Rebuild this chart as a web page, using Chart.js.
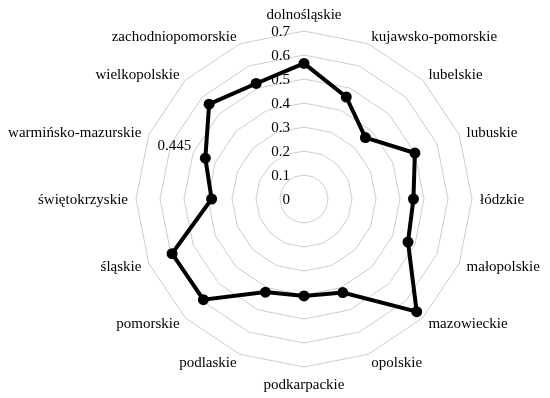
<!DOCTYPE html>
<html>
<head>
<meta charset="utf-8">
<script src="https://cdn.jsdelivr.net/npm/chart.js@4/dist/chart.umd.min.js"></script>
<style>
html,body{margin:0;padding:0;background:#fff;overflow:hidden;}
#wrap{width:550px;height:398px;position:relative;}
</style>
</head>
<body>
<div id="wrap"><canvas id="c" width="550" height="398"></canvas></div>
<script>
const categories = ["dolnośląskie","kujawsko-pomorskie","lubelskie","lubuskie","łódzkie","małopolskie","mazowieckie","opolskie","podkarpackie","podlaskie","pomorskie","śląskie","świętokrzyskie","warmińsko-mazurskie","wielkopolskie","zachodniopomorskie"];
const values = [0.565, 0.46, 0.362, 0.5, 0.456, 0.469, 0.664, 0.422, 0.404, 0.42, 0.593, 0.595, 0.385, 0.445, 0.559, 0.521];
const tickValues = [0, 0.1, 0.2, 0.3, 0.4, 0.5, 0.6, 0.7];
const tickLabels = ["0","0.1","0.2","0.3","0.4","0.5","0.6","0.7"];
const annotatedIndex = 13;
const annotatedText = "0.445";

const FONT = "'Liberation Serif', 'Times New Roman', serif";

const textPlugin = {
  id: 'radarText',
  afterDraw(chart) {
    const s = chart.scales.r;
    const ctx = chart.ctx;
    ctx.save();
    ctx.font = "15px " + FONT;
    ctx.fillStyle = "#000";
    // tick labels
    ctx.textAlign = "right";
    ctx.textBaseline = "middle";
    tickValues.forEach((v, i) => {
      const d = s.getDistanceFromCenterForValue(v);
      ctx.fillText(tickLabels[i], s.xCenter - 14, s.yCenter - d + 1);
    });
    // annotation
    const pt = chart.getDatasetMeta(0).data[annotatedIndex];
    ctx.fillText(annotatedText, pt.x - 14, pt.y - 12);
    // point labels
    categories.forEach((lab, i) => {
      const a = s.getIndexAngle(i);
      const p = s.getPointPosition(i, s.drawingArea + 8);
      const sn = Math.sin(a), cs = Math.cos(a);
      let y = p.y;
      if (Math.abs(sn) < 1e-6) {
        ctx.textAlign = "center";
        y = p.y - cs * 9;
      } else if (sn > 0) {
        ctx.textAlign = "left";
      } else {
        ctx.textAlign = "right";
      }
      ctx.fillText(lab, p.x, y + 1);
    });
    ctx.restore();
  }
};

new Chart(document.getElementById('c'), {
  type: 'radar',
  data: {
    labels: categories,
    datasets: [{
      data: values,
      borderColor: '#000',
      backgroundColor: '#000',
      borderWidth: 4,
      fill: false,
      pointRadius: 5.5,
      pointBackgroundColor: '#000',
      pointBorderColor: '#000',
      pointBorderWidth: 0,
      tension: 0
    }]
  },
  options: {
    responsive: false,
    animation: false,
    layout: { padding: { top: 31, bottom: 31, left: 87, right: 29 } },
    plugins: { legend: { display: false }, tooltip: { enabled: false } },
    scales: {
      r: {
        min: 0,
        max: 0.7,
        ticks: { display: false, stepSize: 0.1 },
        grid: { color: '#cccccc', lineWidth: 1 },
        angleLines: { display: false },
        pointLabels: { display: false }
      }
    }
  },
  plugins: [textPlugin]
});
</script>
</body>
</html>
